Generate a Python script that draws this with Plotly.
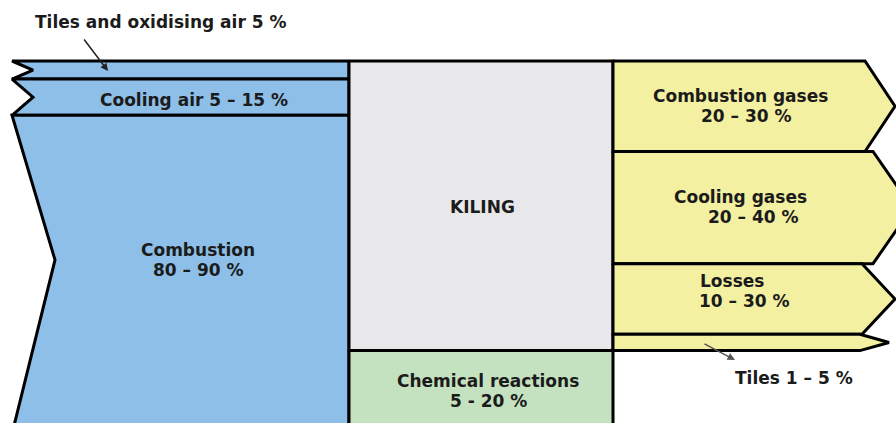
import plotly.graph_objects as go

# flow shares as drawn (band widths, % of total)
in_labels = [["Tiles and oxidising air 5 %"], ["Cooling air 5 – 15 %"], ["Combustion", "80 – 90 %"]]
in_values = [5, 10, 85]
out_labels = [["Combustion gases", "20 – 30 %"], ["Cooling gases", "20 – 40 %"],
              ["Losses", "10 – 30 %"], ["Tiles 1 – 5 %"]]
out_values = [25, 31, 19.5, 4.5]
kiln_label = ["KILING"]
chem_label = ["Chemical reactions", "5 - 20 %"]
chem_value = 20

W, H = 896, 423
TOP_PX, FULL_PX = 61, 362       # where 0 % and 100 % sit, in pixels
BLUE, GREY, YELLOW, GREEN = "#8dbfe8", "#e8e8ea", "#f3f0a2", "#c5e2c0"
X_LEFT, X_MID0, X_MID1 = 12, 349, 613
PAD = 3  # bottom bands run off the picture
FONT = dict(family="DejaVu Sans", size=17, color="#1b1b1b")


def yd(py):
    return (py - TOP_PX) / FULL_PX * 100


def poly(xs, ys, color):
    return go.Scatter(x=xs + [xs[0]], y=ys + [ys[0]], mode="lines", fill="toself",
                      fillcolor=color, line=dict(color="black", width=3),
                      hoverinfo="skip", showlegend=False)


fig = go.Figure()

# left: incoming air / fuel with notched tails
notch = [(21, 0.5), (21, 0.5), (43, 0.47)]
top = 0
for i, v in enumerate(in_values):
    bot = top + v
    depth, f = notch[i]
    b = bot + PAD if i == len(in_values) - 1 else bot
    fig.add_trace(poly([X_MID0, X_LEFT, X_LEFT + depth, X_LEFT, X_MID0],
                       [top, top, top + f * (bot - top), b, b], BLUE))
    top = bot

# middle: kiln and chemical reactions
total_out = sum(out_values)
fig.add_trace(poly([X_MID0, X_MID1, X_MID1, X_MID0], [0, 0, total_out, total_out], GREY))
fig.add_trace(poly([X_MID0, X_MID1, X_MID1, X_MID0],
                   [total_out, total_out, total_out + chem_value + PAD, total_out + chem_value + PAD], GREEN))

# right: outgoing arrows
corners = [865, 873, 862, 860]
tips = [895, 912, 895, 889]
top = 0
for i, v in enumerate(out_values):
    bot = top + v
    fig.add_trace(poly([X_MID1, corners[i], tips[i], corners[i], X_MID1],
                       [top, top, (top + bot) / 2, bot, bot], YELLOW))
    top = bot

# label line centres, pixels
label_pos = [
    (in_labels[0], [(160, 22)]),
    (in_labels[1], [(194, 100)]),
    (in_labels[2], [(198, 250), (198, 270)]),
    (kiln_label, [(482, 207)]),
    (chem_label, [(488, 381), (488, 401)]),
    (out_labels[0], [(740, 96), (746, 116)]),
    (out_labels[1], [(740, 197), (753, 217)]),
    (out_labels[2], [(732, 281), (744, 301)]),
    (out_labels[3], [(794, 378)]),
]
for lines, pts in label_pos:
    for txt, (px, py) in zip(lines, pts):
        fig.add_annotation(x=px, y=yd(py), text="<b>" + txt + "</b>", showarrow=False,
                           font=FONT, yanchor="middle")

fig.add_annotation(x=108, y=yd(71), text="", showarrow=True, ax=-25, ay=-33,
                   arrowhead=2, arrowsize=1, arrowwidth=1.5, arrowcolor="#222")
fig.add_annotation(x=735, y=yd(360), text="", showarrow=True, ax=-32, ay=-17,
                   arrowhead=2, arrowsize=1, arrowwidth=1.5, arrowcolor="#555")

fig.update_xaxes(range=[0, W], visible=False)
fig.update_yaxes(range=[yd(H), yd(0)], visible=False)
fig.update_layout(width=W, height=H, margin=dict(l=0, r=0, t=0, b=0),
                  plot_bgcolor="white", paper_bgcolor="white", showlegend=False)

fig.write_html("out.html", config={"displayModeBar": False},
               post_script="document.body.style.margin='0';")
